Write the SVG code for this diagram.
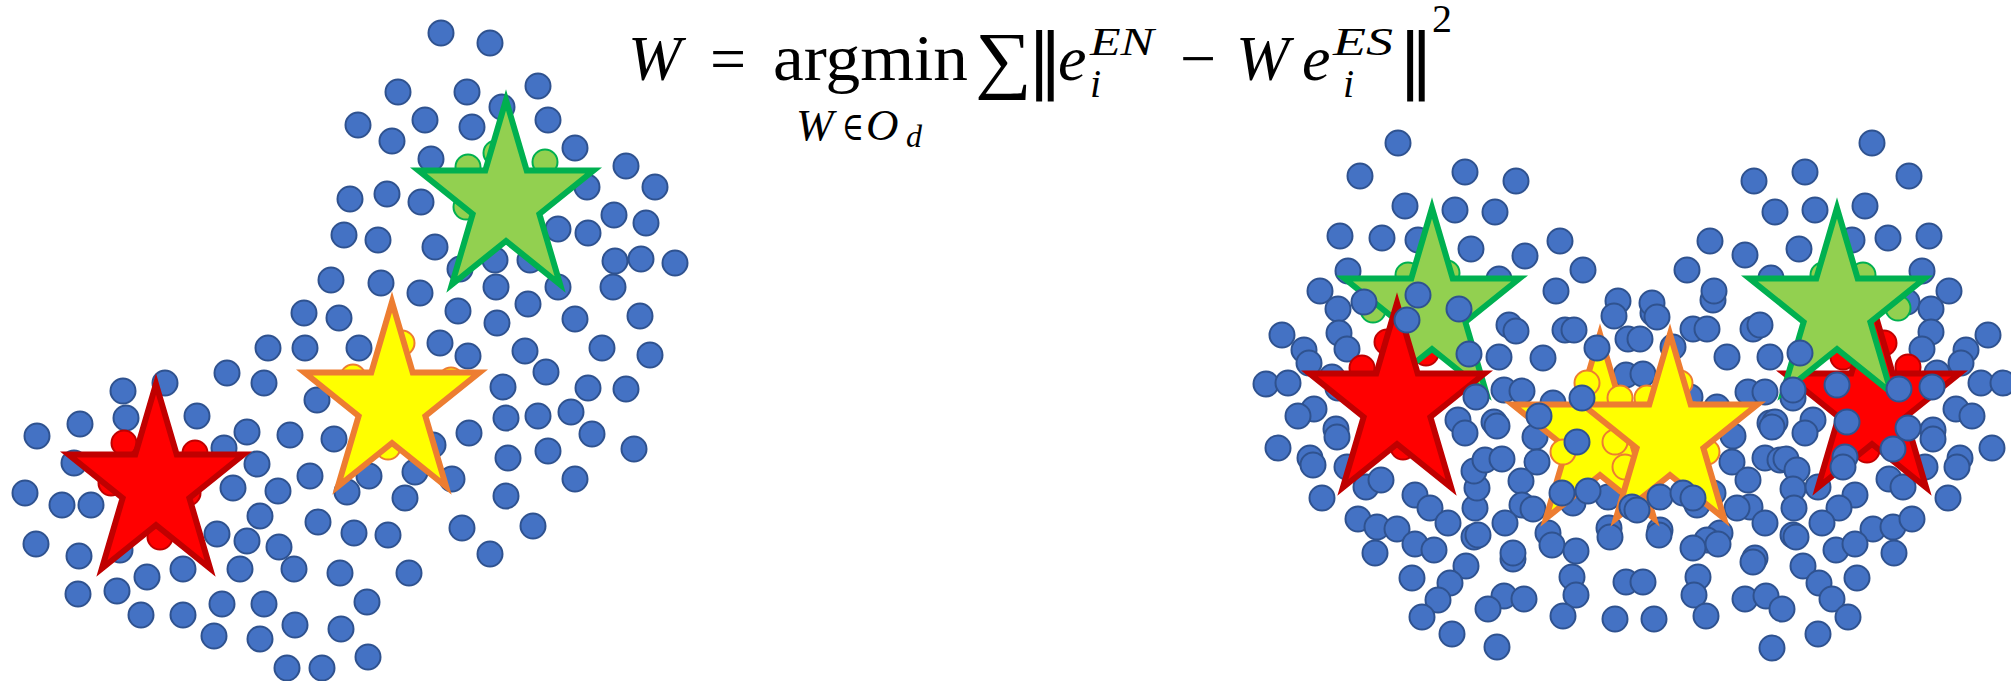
<svg xmlns="http://www.w3.org/2000/svg" xmlns:xlink="http://www.w3.org/1999/xlink" width="2011" height="681" viewBox="0 0 2011 681">
<style>
.d{fill:#4472C4;stroke:#2F528F;stroke-width:2}
.cg{fill:#92D050;stroke:#00B050;stroke-width:2}
.cr{fill:#FF0000;stroke:#C00000;stroke-width:2}
.cy{fill:#FFFF00;stroke:#ED7D31;stroke-width:2}
.sg{fill:#92D050;stroke:#00B050;stroke-width:6}
.sr{fill:#FF0000;stroke:#C00000;stroke-width:6}
.sy{fill:#FFFF00;stroke:#ED7D31;stroke-width:6}
.f{font-family:"Liberation Serif","DejaVu Serif",serif;fill:#000}
.it{font-style:italic}
</style>
<defs>
<path id="star" d="M0,-102 L20.7,-31.5 L87.5,-31.5 L33.4,12 L54.1,82.5 L0,39 L-54.1,82.5 L-33.4,12 L-87.5,-31.5 L-20.7,-31.5 Z"/>
</defs>
<rect width="2011" height="681" fill="#fff"/>

<g id="formula" class="f">
<text x="628" y="80" font-size="64" class="it">W</text>
<text x="710" y="80" font-size="64">=</text>
<text x="773" y="80" font-size="66" textLength="195" lengthAdjust="spacingAndGlyphs">argmin</text>
<text transform="translate(975,84) scale(1.06,1)" font-size="75">∑</text>
<text x="1027" y="84" font-size="72" style="font-family:'DejaVu Sans',sans-serif">‖</text>
<text x="1058" y="80" font-size="64" class="it">e</text>
<text x="1090" y="55" font-size="40" class="it" textLength="64" lengthAdjust="spacingAndGlyphs">EN</text>
<text x="1090" y="97" font-size="40" class="it">i</text>
<text x="1180" y="80" font-size="64">−</text>
<text x="1236" y="80" font-size="64" class="it">W</text>
<text x="1302" y="80" font-size="64" class="it">e</text>
<text x="1333" y="55" font-size="40" class="it" textLength="60" lengthAdjust="spacingAndGlyphs">ES</text>
<text x="1343" y="97" font-size="40" class="it">i</text>
<text x="1398" y="84" font-size="72" style="font-family:'DejaVu Sans',sans-serif">‖</text>
<text x="1432" y="32" font-size="40">2</text>
<text x="796" y="140" font-size="45" class="it">W</text>
<text x="842" y="140" font-size="40" textLength="22" lengthAdjust="spacingAndGlyphs">∈</text>
<text x="866" y="140" font-size="45" class="it">O</text>
<text x="906" y="147" font-size="32" class="it">d</text>
</g>

<g id="cluster-left">
<g class="d">
<circle cx="441" cy="33" r="12.5"/><circle cx="490" cy="43" r="12.5"/><circle cx="398" cy="92" r="12.5"/><circle cx="467" cy="92" r="12.5"/><circle cx="538" cy="86" r="12.5"/><circle cx="502" cy="107" r="12.5"/><circle cx="358" cy="125" r="12.5"/><circle cx="425" cy="120" r="12.5"/><circle cx="472" cy="127" r="12.5"/><circle cx="548" cy="120" r="12.5"/><circle cx="392" cy="141" r="12.5"/><circle cx="575" cy="148" r="12.5"/><circle cx="431" cy="159" r="12.5"/><circle cx="626" cy="166" r="12.5"/><circle cx="655" cy="187" r="12.5"/><circle cx="587" cy="187" r="12.5"/><circle cx="350" cy="199" r="12.5"/><circle cx="387" cy="194" r="12.5"/><circle cx="421" cy="202" r="12.5"/><circle cx="614" cy="215" r="12.5"/><circle cx="646" cy="223" r="12.5"/><circle cx="558" cy="229" r="12.5"/><circle cx="588" cy="233" r="12.5"/><circle cx="344" cy="235" r="12.5"/><circle cx="378" cy="240" r="12.5"/><circle cx="435" cy="247" r="12.5"/><circle cx="495" cy="260" r="12.5"/><circle cx="530" cy="260" r="12.5"/><circle cx="460" cy="269" r="12.5"/><circle cx="615" cy="261" r="12.5"/><circle cx="641" cy="259" r="12.5"/><circle cx="675" cy="263" r="12.5"/><circle cx="331" cy="280" r="12.5"/><circle cx="381" cy="283" r="12.5"/><circle cx="420" cy="293" r="12.5"/><circle cx="496" cy="287" r="12.5"/><circle cx="558" cy="287" r="12.5"/><circle cx="613" cy="287" r="12.5"/><circle cx="528" cy="304" r="12.5"/><circle cx="304" cy="313" r="12.5"/><circle cx="339" cy="318" r="12.5"/><circle cx="458" cy="311" r="12.5"/><circle cx="497" cy="323" r="12.5"/><circle cx="575" cy="319" r="12.5"/><circle cx="640" cy="316" r="12.5"/>
<circle cx="268" cy="348" r="12.5"/><circle cx="305" cy="348" r="12.5"/><circle cx="359" cy="348" r="12.5"/><circle cx="440" cy="343" r="12.5"/><circle cx="468" cy="356" r="12.5"/><circle cx="525" cy="351" r="12.5"/><circle cx="602" cy="348" r="12.5"/><circle cx="650" cy="355" r="12.5"/><circle cx="227" cy="373" r="12.5"/><circle cx="264" cy="383" r="12.5"/><circle cx="123" cy="391" r="12.5"/><circle cx="165" cy="383" r="12.5"/><circle cx="317" cy="400" r="12.5"/><circle cx="503" cy="387" r="12.5"/><circle cx="546" cy="372" r="12.5"/><circle cx="588" cy="388" r="12.5"/><circle cx="626" cy="389" r="12.5"/><circle cx="80" cy="424" r="12.5"/><circle cx="126" cy="418" r="12.5"/><circle cx="197" cy="416" r="12.5"/><circle cx="247" cy="432" r="12.5"/><circle cx="290" cy="435" r="12.5"/><circle cx="334" cy="439" r="12.5"/><circle cx="469" cy="433" r="12.5"/><circle cx="506" cy="418" r="12.5"/><circle cx="538" cy="416" r="12.5"/><circle cx="571" cy="412" r="12.5"/><circle cx="592" cy="434" r="12.5"/><circle cx="37" cy="436" r="12.5"/><circle cx="224" cy="448" r="12.5"/><circle cx="74" cy="463" r="12.5"/><circle cx="257" cy="464" r="12.5"/><circle cx="433" cy="445" r="12.5"/><circle cx="508" cy="458" r="12.5"/><circle cx="548" cy="451" r="12.5"/><circle cx="634" cy="449" r="12.5"/><circle cx="310" cy="476" r="12.5"/><circle cx="369" cy="476" r="12.5"/><circle cx="415" cy="472" r="12.5"/><circle cx="452" cy="479" r="12.5"/><circle cx="575" cy="479" r="12.5"/><circle cx="233" cy="488" r="12.5"/><circle cx="278" cy="491" r="12.5"/><circle cx="347" cy="492" r="12.5"/><circle cx="405" cy="498" r="12.5"/><circle cx="25" cy="493" r="12.5"/><circle cx="62" cy="505" r="12.5"/><circle cx="91" cy="505" r="12.5"/><circle cx="506" cy="496" r="12.5"/><circle cx="260" cy="516" r="12.5"/><circle cx="318" cy="522" r="12.5"/><circle cx="354" cy="533" r="12.5"/><circle cx="388" cy="535" r="12.5"/><circle cx="462" cy="528" r="12.5"/><circle cx="533" cy="526" r="12.5"/><circle cx="217" cy="534" r="12.5"/><circle cx="247" cy="541" r="12.5"/><circle cx="279" cy="547" r="12.5"/><circle cx="36" cy="544" r="12.5"/><circle cx="79" cy="556" r="12.5"/><circle cx="120" cy="550" r="12.5"/><circle cx="490" cy="554" r="12.5"/><circle cx="240" cy="569" r="12.5"/><circle cx="294" cy="569" r="12.5"/><circle cx="340" cy="573" r="12.5"/><circle cx="409" cy="573" r="12.5"/><circle cx="183" cy="569" r="12.5"/><circle cx="147" cy="577" r="12.5"/><circle cx="78" cy="594" r="12.5"/><circle cx="117" cy="591" r="12.5"/><circle cx="367" cy="602" r="12.5"/><circle cx="222" cy="604" r="12.5"/><circle cx="264" cy="604" r="12.5"/><circle cx="141" cy="615" r="12.5"/><circle cx="183" cy="615" r="12.5"/><circle cx="295" cy="625" r="12.5"/><circle cx="341" cy="629" r="12.5"/><circle cx="214" cy="636" r="12.5"/><circle cx="260" cy="639" r="12.5"/><circle cx="368" cy="657" r="12.5"/><circle cx="287" cy="668" r="12.5"/><circle cx="322" cy="668" r="12.5"/>
</g>
<g class="cg"><circle cx="468" cy="167" r="12.5"/><circle cx="545" cy="162" r="12.5"/><circle cx="466" cy="207" r="12.5"/><circle cx="496" cy="153" r="12.5"/></g>
<g class="cr"><circle cx="124" cy="443" r="12.5"/><circle cx="195" cy="453" r="12.5"/><circle cx="111" cy="483" r="12.5"/><circle cx="188" cy="493" r="12.5"/><circle cx="160" cy="537" r="12.5"/></g>
<g class="cy"><circle cx="402" cy="343" r="12.5"/><circle cx="353" cy="377" r="12.5"/><circle cx="451" cy="380" r="12.5"/><circle cx="371" cy="420" r="12.5"/><circle cx="388" cy="447" r="12.5"/></g>
<use xlink:href="#star" class="sg" transform="translate(506,202)"/>
<use xlink:href="#star" class="sr" transform="translate(156,486)"/>
<use xlink:href="#star" class="sy" transform="translate(392,404)"/>
</g>

<g id="cluster-right">
<g class="d">
<circle cx="1398" cy="143" r="12.5"/><circle cx="1360" cy="176" r="12.5"/><circle cx="1465" cy="172" r="12.5"/><circle cx="1516" cy="181" r="12.5"/><circle cx="1405" cy="206" r="12.5"/><circle cx="1455" cy="210" r="12.5"/><circle cx="1495" cy="212" r="12.5"/><circle cx="1340" cy="236" r="12.5"/><circle cx="1382" cy="238" r="12.5"/><circle cx="1418" cy="240" r="12.5"/><circle cx="1471" cy="249" r="12.5"/><circle cx="1525" cy="256" r="12.5"/><circle cx="1560" cy="241" r="12.5"/><circle cx="1348" cy="271" r="12.5"/><circle cx="1499" cy="279" r="12.5"/><circle cx="1583" cy="270" r="12.5"/><circle cx="1320" cy="291" r="12.5"/><circle cx="1556" cy="291" r="12.5"/><circle cx="1618" cy="301" r="12.5"/><circle cx="1338" cy="309" r="12.5"/><circle cx="1614" cy="316" r="12.5"/><circle cx="1282" cy="335" r="12.5"/><circle cx="1339" cy="333" r="12.5"/><circle cx="1347" cy="349" r="12.5"/><circle cx="1509" cy="325" r="12.5"/><circle cx="1516" cy="331" r="12.5"/><circle cx="1565" cy="330" r="12.5"/><circle cx="1574" cy="330" r="12.5"/><circle cx="1304" cy="350" r="12.5"/><circle cx="1309" cy="363" r="12.5"/><circle cx="1499" cy="357" r="12.5"/><circle cx="1543" cy="358" r="12.5"/><circle cx="1628" cy="339" r="12.5"/><circle cx="1640" cy="339" r="12.5"/><circle cx="1626" cy="375" r="12.5"/><circle cx="1643" cy="374" r="12.5"/><circle cx="1266" cy="384" r="12.5"/><circle cx="1288" cy="383" r="12.5"/><circle cx="1332" cy="377" r="12.5"/><circle cx="1504" cy="390" r="12.5"/><circle cx="1522" cy="391" r="12.5"/><circle cx="1553" cy="403" r="12.5"/>
<circle cx="1338" cy="388" r="12.5"/><circle cx="1314" cy="409" r="12.5"/><circle cx="1298" cy="416" r="12.5"/><circle cx="1336" cy="429" r="12.5"/><circle cx="1337" cy="437" r="12.5"/><circle cx="1278" cy="448" r="12.5"/><circle cx="1310" cy="458" r="12.5"/><circle cx="1313" cy="465" r="12.5"/><circle cx="1347" cy="467" r="12.5"/>
<circle cx="1366" cy="487" r="12.5"/><circle cx="1381" cy="480" r="12.5"/><circle cx="1322" cy="498" r="12.5"/><circle cx="1415" cy="495" r="12.5"/><circle cx="1430" cy="508" r="12.5"/><circle cx="1448" cy="523" r="12.5"/><circle cx="1358" cy="519" r="12.5"/><circle cx="1377" cy="527" r="12.5"/><circle cx="1397" cy="529" r="12.5"/><circle cx="1415" cy="544" r="12.5"/><circle cx="1434" cy="550" r="12.5"/><circle cx="1375" cy="553" r="12.5"/><circle cx="1412" cy="578" r="12.5"/><circle cx="1466" cy="566" r="12.5"/><circle cx="1450" cy="583" r="12.5"/><circle cx="1438" cy="600" r="12.5"/><circle cx="1422" cy="617" r="12.5"/><circle cx="1452" cy="634" r="12.5"/><circle cx="1497" cy="647" r="12.5"/><circle cx="1504" cy="596" r="12.5"/><circle cx="1524" cy="599" r="12.5"/><circle cx="1488" cy="609" r="12.5"/><circle cx="1513" cy="559" r="12.5"/><circle cx="1474" cy="537" r="12.5"/><circle cx="1478" cy="535" r="12.5"/><circle cx="1475" cy="508" r="12.5"/><circle cx="1477" cy="488" r="12.5"/><circle cx="1474" cy="471" r="12.5"/><circle cx="1485" cy="460" r="12.5"/><circle cx="1502" cy="459" r="12.5"/><circle cx="1458" cy="420" r="12.5"/><circle cx="1465" cy="433" r="12.5"/><circle cx="1494" cy="422" r="12.5"/><circle cx="1497" cy="426" r="12.5"/><circle cx="1535" cy="437" r="12.5"/><circle cx="1537" cy="462" r="12.5"/><circle cx="1521" cy="481" r="12.5"/><circle cx="1522" cy="505" r="12.5"/><circle cx="1533" cy="509" r="12.5"/><circle cx="1505" cy="523" r="12.5"/><circle cx="1548" cy="533" r="12.5"/><circle cx="1552" cy="545" r="12.5"/><circle cx="1576" cy="551" r="12.5"/><circle cx="1572" cy="577" r="12.5"/><circle cx="1576" cy="595" r="12.5"/><circle cx="1563" cy="616" r="12.5"/><circle cx="1615" cy="619" r="12.5"/><circle cx="1626" cy="582" r="12.5"/><circle cx="1609" cy="528" r="12.5"/><circle cx="1610" cy="537" r="12.5"/><circle cx="1573" cy="503" r="12.5"/><circle cx="1608" cy="497" r="12.5"/><circle cx="1513" cy="553" r="12.5"/>
<circle cx="1653" cy="313" r="12.5"/><circle cx="1652" cy="303" r="12.5"/><circle cx="1713" cy="300" r="12.5"/><circle cx="1693" cy="329" r="12.5"/><circle cx="1707" cy="329" r="12.5"/><circle cx="1673" cy="347" r="12.5"/><circle cx="1753" cy="329" r="12.5"/><circle cx="1727" cy="357" r="12.5"/><circle cx="1770" cy="357" r="12.5"/><circle cx="1690" cy="397" r="12.5"/><circle cx="1748" cy="392" r="12.5"/><circle cx="1765" cy="392" r="12.5"/><circle cx="1717" cy="407" r="12.5"/><circle cx="1733" cy="436" r="12.5"/><circle cx="1770" cy="423" r="12.5"/><circle cx="1732" cy="462" r="12.5"/><circle cx="1765" cy="458" r="12.5"/><circle cx="1748" cy="480" r="12.5"/><circle cx="1780" cy="460" r="12.5"/><circle cx="1750" cy="507" r="12.5"/><circle cx="1737" cy="508" r="12.5"/><circle cx="1765" cy="523" r="12.5"/><circle cx="1713" cy="493" r="12.5"/><circle cx="1720" cy="533" r="12.5"/><circle cx="1707" cy="540" r="12.5"/><circle cx="1693" cy="548" r="12.5"/><circle cx="1660" cy="530" r="12.5"/><circle cx="1657" cy="317" r="12.5"/>
<circle cx="1872" cy="143" r="12.5"/><circle cx="1805" cy="172" r="12.5"/><circle cx="1754" cy="181" r="12.5"/><circle cx="1909" cy="176" r="12.5"/><circle cx="1775" cy="212" r="12.5"/><circle cx="1815" cy="210" r="12.5"/><circle cx="1865" cy="206" r="12.5"/><circle cx="1710" cy="241" r="12.5"/><circle cx="1745" cy="255" r="12.5"/><circle cx="1799" cy="249" r="12.5"/><circle cx="1852" cy="240" r="12.5"/><circle cx="1888" cy="238" r="12.5"/><circle cx="1929" cy="236" r="12.5"/><circle cx="1687" cy="270" r="12.5"/><circle cx="1771" cy="278" r="12.5"/><circle cx="1922" cy="271" r="12.5"/><circle cx="1714" cy="291" r="12.5"/><circle cx="1949" cy="291" r="12.5"/><circle cx="1907" cy="302" r="12.5"/><circle cx="1931" cy="309" r="12.5"/><circle cx="1760" cy="325" r="12.5"/><circle cx="1931" cy="332" r="12.5"/><circle cx="1922" cy="349" r="12.5"/><circle cx="1988" cy="335" r="12.5"/><circle cx="1966" cy="350" r="12.5"/><circle cx="1961" cy="363" r="12.5"/><circle cx="1937" cy="373" r="12.5"/><circle cx="1981" cy="383" r="12.5"/><circle cx="2003" cy="383" r="12.5"/>
<circle cx="1793" cy="398" r="12.5"/><circle cx="1956" cy="409" r="12.5"/><circle cx="1972" cy="416" r="12.5"/><circle cx="1775" cy="422" r="12.5"/><circle cx="1772" cy="427" r="12.5"/><circle cx="1813" cy="420" r="12.5"/><circle cx="1805" cy="433" r="12.5"/><circle cx="1933" cy="430" r="12.5"/><circle cx="1933" cy="439" r="12.5"/><circle cx="1992" cy="448" r="12.5"/><circle cx="1960" cy="458" r="12.5"/><circle cx="1957" cy="467" r="12.5"/><circle cx="1786" cy="459" r="12.5"/><circle cx="1797" cy="470" r="12.5"/><circle cx="1925" cy="467" r="12.5"/><circle cx="1793" cy="489" r="12.5"/><circle cx="1818" cy="487" r="12.5"/><circle cx="1889" cy="479" r="12.5"/><circle cx="1903" cy="487" r="12.5"/><circle cx="1948" cy="498" r="12.5"/><circle cx="1855" cy="495" r="12.5"/><circle cx="1839" cy="508" r="12.5"/><circle cx="1794" cy="508" r="12.5"/><circle cx="1697" cy="505" r="12.5"/><circle cx="1822" cy="523" r="12.5"/><circle cx="1873" cy="529" r="12.5"/><circle cx="1893" cy="527" r="12.5"/><circle cx="1912" cy="519" r="12.5"/><circle cx="1659" cy="535" r="12.5"/><circle cx="1718" cy="544" r="12.5"/><circle cx="1793" cy="535" r="12.5"/><circle cx="1796" cy="537" r="12.5"/><circle cx="1836" cy="550" r="12.5"/><circle cx="1855" cy="544" r="12.5"/><circle cx="1894" cy="553" r="12.5"/><circle cx="1755" cy="558" r="12.5"/><circle cx="1753" cy="562" r="12.5"/><circle cx="1803" cy="566" r="12.5"/><circle cx="1698" cy="577" r="12.5"/><circle cx="1694" cy="595" r="12.5"/><circle cx="1706" cy="616" r="12.5"/><circle cx="1643" cy="582" r="12.5"/><circle cx="1819" cy="583" r="12.5"/><circle cx="1832" cy="599" r="12.5"/><circle cx="1857" cy="578" r="12.5"/><circle cx="1848" cy="617" r="12.5"/><circle cx="1745" cy="599" r="12.5"/><circle cx="1766" cy="596" r="12.5"/><circle cx="1782" cy="609" r="12.5"/><circle cx="1818" cy="634" r="12.5"/><circle cx="1772" cy="648" r="12.5"/><circle cx="1654" cy="619" r="12.5"/>
</g>
<g class="cg"><circle cx="1408" cy="275" r="12.5"/><circle cx="1447" cy="273" r="12.5"/><circle cx="1373" cy="310" r="12.5"/><circle cx="1823" cy="275" r="12.5"/><circle cx="1863" cy="275" r="12.5"/><circle cx="1898" cy="308" r="12.5"/><circle cx="1868" cy="330" r="12.5"/></g>
<g class="cr"><circle cx="1387" cy="342" r="12.5"/><circle cx="1426" cy="353" r="12.5"/><circle cx="1362" cy="368" r="12.5"/><circle cx="1403" cy="447" r="12.5"/><circle cx="1884" cy="343" r="12.5"/><circle cx="1843" cy="357" r="12.5"/><circle cx="1908" cy="367" r="12.5"/><circle cx="1867" cy="450" r="12.5"/></g>
<use xlink:href="#star" class="sg" transform="translate(1432,310)"/>
<use xlink:href="#star" class="sr" transform="translate(1397,405)"/>
<use xlink:href="#star" class="sy" transform="translate(1600,436)"/>
<g class="cy"><circle cx="1587" cy="383" r="12.5"/><circle cx="1620" cy="398" r="12.5"/><circle cx="1647" cy="398" r="12.5"/><circle cx="1680" cy="383" r="12.5"/><circle cx="1615" cy="442" r="12.5"/><circle cx="1625" cy="467" r="12.5"/><circle cx="1563" cy="452" r="12.5"/><circle cx="1707" cy="452" r="12.5"/></g>
<use xlink:href="#star" class="sy" transform="translate(1670,436)"/>
<use xlink:href="#star" class="sr" transform="translate(1872,405)"/>
<use xlink:href="#star" class="sg" transform="translate(1837,310)"/>
<g class="d">
<circle cx="1364" cy="302" r="12.5"/><circle cx="1418" cy="295" r="12.5"/><circle cx="1459" cy="309" r="12.5"/><circle cx="1407" cy="320" r="12.5"/><circle cx="1469" cy="354" r="12.5"/><circle cx="1476" cy="397" r="12.5"/>
<circle cx="1597" cy="348" r="12.5"/><circle cx="1582" cy="398" r="12.5"/><circle cx="1539" cy="416" r="12.5"/><circle cx="1577" cy="442" r="12.5"/><circle cx="1562" cy="493" r="12.5"/><circle cx="1588" cy="491" r="12.5"/>
<circle cx="1660" cy="497" r="12.5"/><circle cx="1683" cy="493" r="12.5"/><circle cx="1693" cy="498" r="12.5"/><circle cx="1632" cy="507" r="12.5"/><circle cx="1637" cy="510" r="12.5"/>
<circle cx="1837" cy="385" r="12.5"/><circle cx="1899" cy="389" r="12.5"/><circle cx="1932" cy="387" r="12.5"/><circle cx="1793" cy="390" r="12.5"/><circle cx="1800" cy="353" r="12.5"/>
<circle cx="1847" cy="422" r="12.5"/><circle cx="1908" cy="428" r="12.5"/><circle cx="1845" cy="457" r="12.5"/><circle cx="1843" cy="467" r="12.5"/><circle cx="1893" cy="449" r="12.5"/>
</g>
</g>
</svg>
